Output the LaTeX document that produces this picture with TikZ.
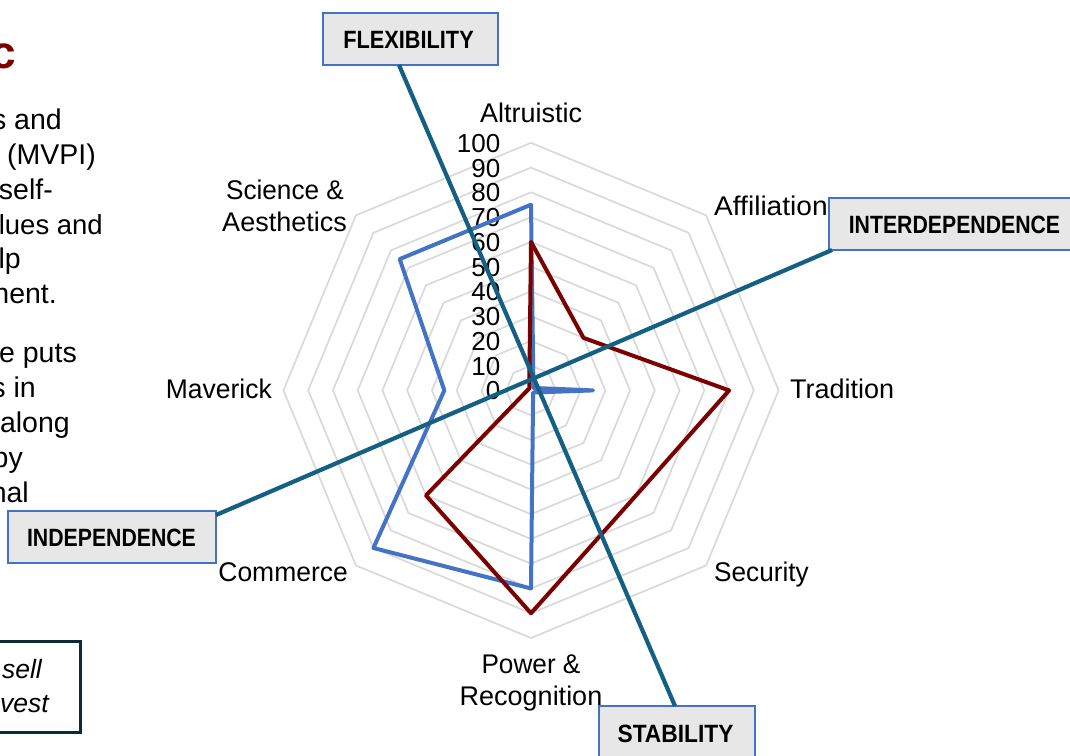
\documentclass[tikz,border=0pt]{standalone}
\usepackage{fontspec}
\usepackage{graphicx}
\setmainfont{Liberation Sans}
\definecolor{gridgray}{HTML}{D9D9D9}
\definecolor{chartblue}{HTML}{4472C4}
\definecolor{chartred}{HTML}{7B0000}
\definecolor{teal1}{HTML}{156082}
\definecolor{boxfill}{HTML}{E7E7E7}
\definecolor{navy1}{HTML}{0B2A3A}
\newcommand{\catsize}{\fontsize{27}{30}\selectfont}
\newcommand{\tagtext}[2]{\fontsize{25}{30}\selectfont\bfseries\scalebox{#1}[1]{#2}}
\tikzset{
  gridline/.style={draw=gridgray,line width=1.7pt,line join=round},
  series/.style={line width=4pt,line join=round},
  axisline/.style={draw=teal1,line width=4.2pt},
  tagbox/.style={draw=chartblue,fill=boxfill,line width=1.9pt,inner sep=0pt,minimum height=52pt},
  lab/.style={inner sep=0pt,font=\catsize},
  lefttxt/.style={inner sep=0pt,anchor=base east,font=\fontsize{28.5}{32}\selectfont},
  quotetxt/.style={inner sep=0pt,anchor=base east,font=\fontsize{26.5}{30}\selectfont\itshape},
  tick/.style={inner sep=0pt,anchor=base east,font=\fontsize{26}{30}\selectfont},
}
\begin{document}
\begin{tikzpicture}[x=1pt,y=-1pt]
\useasboundingbox (0,0) rectangle (1070,755);
% grid
\begin{scope}[shift={(531,390.4)}]
\foreach \lv in {10,20,...,100}{
  \draw[gridline] (-90:\lv*2.476) -- (-45:\lv*2.476) -- (0:\lv*2.476) -- (45:\lv*2.476) -- (90:\lv*2.476) -- (135:\lv*2.476) -- (180:\lv*2.476) -- (225:\lv*2.476) -- cycle;
}
\end{scope}
% scale labels
\foreach \v in {0,10,...,100}{
  \node[tick] (t\v) at (500.5,399.9-\v*2.476) {\v};
}
% series
\begin{scope}[shift={(531,390.4)}]
\draw[series,chartblue] (-90:75*2.476) -- (-45:1.4*2.476) -- (0:25*2.476) -- (45:1.2*2.476) -- (90:80*2.476) -- (135:90*2.476) -- (180:35*2.476) -- (225:75*2.476) -- cycle;
\draw[series,chartred] (-90:60*2.476) -- (-45:30*2.476) -- (0:80*2.476) -- (45:60*2.476) -- (90:90*2.476) -- (135:60*2.476) -- (180:1.5*2.476) -- (225:1*2.476) -- cycle;
\end{scope}
% category labels
\node[lab,anchor=base] (altr) at (531,122) {Altruistic};
\node[lab,anchor=base west] (affi) at (714,215) {\scalebox{1.04}[1]{Affiliation}};
\node[lab,anchor=base west] (trad) at (790,398) {Tradition};
\node[lab,anchor=base west] (secu) at (714,581) {\scalebox{0.97}[1]{Security}};
\node[lab,anchor=base] (powe) at (531,673) {\scalebox{0.97}[1]{Power \&}};
\node[lab,anchor=base] (reco) at (531,705) {Recognition};
\node[lab,anchor=base east] (comm) at (348,581) {\scalebox{0.98}[1]{Commerce}};
\node[lab,anchor=base east] (mave) at (272,398) {\scalebox{0.98}[1]{Maverick}};
\node[lab,anchor=base] (scie) at (285,199) {\scalebox{0.97}[1]{Science \&}};
\node[lab,anchor=base east] (aest) at (347,231) {Aesthetics};
% tag boxes
\node[tagbox,minimum width=175pt] (flex) at (410.5,39) {};
\node[tagbox,minimum width=251pt] (inter) at (954.5,224) {};
\node[tagbox,minimum width=208pt] (indep) at (112,537) {};
\node[tagbox,minimum width=156pt] (stab) at (677,732) {};
\node[inner sep=0pt,anchor=base] (flext) at (408.5,48) {\tagtext{0.87}{FLEXIBILITY}};
\node[inner sep=0pt,anchor=base] (intert) at (954.5,233) {\tagtext{0.85}{INTERDEPENDENCE}};
\node[inner sep=0pt,anchor=base] (indept) at (111.5,546) {\tagtext{0.85}{INDEPENDENCE}};
\node[inner sep=0pt,anchor=base] (stabt) at (675.5,742) {\tagtext{0.91}{STABILITY}};
% axes
\coordinate (fe) at (399,65);
\coordinate (se) at (675,706);
\coordinate (ie) at (832,250);
\coordinate (de) at (216,515);
\draw[axisline] (fe) -- (se);
\draw[axisline] (ie) -- (de);
% left text fragments
\node[inner sep=0pt,anchor=base east,font=\fontsize{46}{50}\selectfont\bfseries,text=chartred] (ttl) at (16,68) {c};
\node[lefttxt] (l1) at (62,129) {s and};
\node[lefttxt] (l2) at (96,164) {(MVPI)};
\node[lefttxt] (l3) at (53,199) {self-};
\node[lefttxt,font=\fontsize{27.5}{32}\selectfont] (l4) at (103,234) {lues and};
\node[lefttxt] (l5) at (21,268) {lp};
\node[lefttxt] (l6) at (57,303) {nent.};
\node[lefttxt] (l7) at (77,362) {e puts};
\node[lefttxt] (l8) at (36,397) {s in};
\node[lefttxt] (l9) at (70,432) {along};
\node[lefttxt] (l10) at (23,467) {by};
\node[lefttxt] (l11) at (29,502) {nal};
% quote box
\draw[draw=navy1,line width=3pt] (-5,641.5) -- (80,641.5) -- (80,732) -- (-5,732);
\node[quotetxt] (q1) at (42,678) {sell};
\node[quotetxt] (q2) at (49,712) {vest};
\end{tikzpicture}
\end{document}
